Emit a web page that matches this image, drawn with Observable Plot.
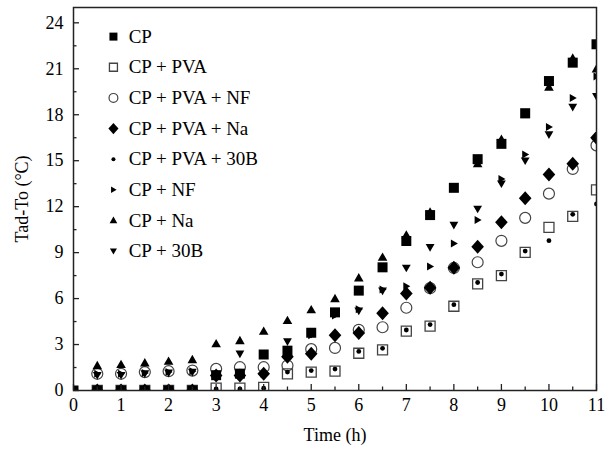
<!DOCTYPE html>
<html>
<head>
<meta charset="utf-8">
<script src="https://cdn.jsdelivr.net/npm/d3@7"></script>
<script src="https://cdn.jsdelivr.net/npm/@observablehq/plot@0.6"></script>
<style>
  html, body { margin: 0; padding: 0; background: #fff; }
  #chart svg { display: block; }
  #chart svg, #chart svg text { font-family: "Liberation Serif", "Times New Roman", serif !important; }
</style>
</head>
<body>
<div id="chart"></div>
<script>
// ---- data ----
const time = [0, 0.5, 1, 1.5, 2, 2.5, 3, 3.5, 4, 4.5, 5, 5.5, 6, 6.5, 7, 7.5, 8, 8.5, 9, 9.5, 10, 10.5, 11];

const cp      = [0, 0, 0, 0, 0, 0, 1.0, 1.1, 2.35, 2.6, 3.77, 5.1, 6.52, 8.04, 9.76, 11.45, 13.23, 15.1, 16.1, 18.1, 20.2, 21.4, 22.6];
const cpPva   = [null, 0, 0, 0, 0, 0, 0.15, 0.15, 0.2, 1.09, 1.2, 1.26, 2.43, 2.65, 3.87, 4.2, 5.5, 6.96, 7.5, 9.02, 10.65, 11.37, 13.09];
const cpPvaNf = [null, 1.09, 1.09, 1.2, 1.26, 1.3, 1.41, 1.52, 1.52, 1.63, 2.7, 2.78, 3.96, 4.13, 5.4, 6.68, 8.0, 8.37, 9.77, 11.27, 12.85, 14.46, 16.0];
const cpPvaNa = [null, 0, 0, 0, 0, 0, 0.98, 0.98, 1.1, 2.2, 2.4, 3.6, 3.75, 5.04, 6.33, 6.7, 8.02, 9.39, 10.98, 12.55, 14.1, 14.8, 16.5];
const cpPva30b= [null, 0, 0, 0, 0, 0, 0.1, 0.1, 0.15, 1.2, 1.3, 1.4, 2.55, 2.75, 3.95, 4.3, 5.6, 7.05, 7.6, 9.1, 9.78, 11.5, 12.18];
const cpNf    = [null, 1.1, 1.1, 1.15, 1.2, 1.25, 1.05, 1.0, 1.1, 2.4, 3.6, 4.9, 5.3, 6.6, 6.8, 8.1, 9.6, 11.13, 13.8, 15.4, 17.2, 19.1, 20.5];
const cpNa    = [null, 1.63, 1.7, 1.8, 1.91, 2.02, 3.05, 3.26, 3.87, 4.57, 5.27, 6.0, 7.35, 8.7, 10.15, 11.65, 13.2, 14.8, 16.4, 18.0, 19.8, 21.7, 21.0];
const cp30b   = [null, 1.0, 1.0, 1.1, 1.15, 1.2, 1.0, 2.39, 2.4, 3.2, 3.7, 5.0, 5.2, 6.5, 8.0, 9.35, 10.8, 11.85, 13.5, 15.0, 16.7, 18.5, 19.2];

const seriesNames = ["CP", "CP + PVA", "CP + PVA + NF", "CP + PVA + Na", "CP + PVA + 30B", "CP + NF", "CP + Na", "CP + 30B"];
const seriesValues = [cp, cpPva, cpPvaNf, cpPvaNa, cpPva30b, cpNf, cpNa, cp30b];

const xTicks = [0, 1, 2, 3, 4, 5, 6, 7, 8, 9, 10, 11];
const xMinor = [0.5, 1.5, 2.5, 3.5, 4.5, 5.5, 6.5, 7.5, 8.5, 9.5, 10.5];
const yTicks = [0, 3, 6, 9, 12, 15, 18, 21, 24];
const yMinor = [1.5, 4.5, 7.5, 10.5, 13.5, 16.5, 19.5, 22.5];

// ---- custom symbols (r = half size) ----
const sym = (fn) => ({ draw(ctx, size) { fn(ctx, Math.sqrt(size / Math.PI)); } });
const square = sym((c, r) => { c.moveTo(-r, -r); c.lineTo(r, -r); c.lineTo(r, r); c.lineTo(-r, r); c.closePath(); });
const circle = sym((c, r) => { c.moveTo(r, 0); c.arc(0, 0, r, 0, 2 * Math.PI); });
const diamond = sym((c, r) => { c.moveTo(0, -r); c.lineTo(r * 0.9, 0); c.lineTo(0, r); c.lineTo(-r * 0.9, 0); c.closePath(); });
const triUp = sym((c, r) => { c.moveTo(0, -r); c.lineTo(r, r * 0.75); c.lineTo(-r, r * 0.75); c.closePath(); });
const triDown = sym((c, r) => { c.moveTo(0, r); c.lineTo(r, -r * 0.75); c.lineTo(-r, -r * 0.75); c.closePath(); });
const triRight = sym((c, r) => { c.moveTo(r, 0); c.lineTo(-r * 0.75, r); c.lineTo(-r * 0.75, -r); c.closePath(); });

const styles = [
  {symbol: square,   r: 5,   fill: "#000", stroke: "none"},
  {symbol: square,   r: 5,   fill: "none", stroke: "#444", strokeWidth: 1.3},
  {symbol: circle,   r: 5.5, fill: "none", stroke: "#444", strokeWidth: 1.2},
  {symbol: diamond,  r: 7,   fill: "#000", stroke: "none"},
  {symbol: circle,   r: 2.4, fill: "#000", stroke: "none"},
  {symbol: triRight, r: 4,   fill: "#000", stroke: "none"},
  {symbol: triUp,    r: 4.8, fill: "#000", stroke: "none"},
  {symbol: triDown,  r: 4.4, fill: "#000", stroke: "none"}
];
// draw order: open markers first, filled on top
const drawOrder = [1, 2, 0, 3, 4, 5, 6, 7];

const pointMarks = drawOrder.map(i => {
  const rows = time.map((t, k) => ({t, v: seriesValues[i][k]})).filter(d => d.v != null);
  return Plot.dot(rows, {x: "t", y: "v", ...styles[i], clip: true});
});

const legendRows = seriesNames.map((name, i) => ({name, i, lx: 0.84, tx: 1.16, ly: 23.1 - 2 * i}));
const legendMarks = legendRows.map(d =>
  Plot.dot([d], {x: "lx", y: "ly", ...styles[d.i], r: d.i === 4 ? 2 : styles[d.i].r * 0.8})
);

const chart = Plot.plot({
  width: 616,
  height: 449,
  marginLeft: 73,
  marginRight: 20,
  marginTop: 7,
  marginBottom: 59,
  style: {fontFamily: "Liberation Serif, Times New Roman, serif", fontSize: "17px", color: "#000", background: "#fff"},
  x: {domain: [0, 11]},
  y: {domain: [0, 25]},
  marks: [
    ...pointMarks,
    ...legendMarks,
    Plot.text(legendRows, {x: "tx", y: "ly", text: "name", textAnchor: "start", fontSize: 19, fill: "#000"}),
    Plot.axisX(xTicks, {tickSize: -6, tickPadding: 14, stroke: "#222", strokeWidth: 1.3, fontSize: 17, label: "Time (h)", labelAnchor: "center", labelOffset: 50, labelArrow: "none"}),
    Plot.axisX(xMinor, {tickSize: -3.5, stroke: "#222", strokeWidth: 1.3, text: null, label: null}),
    Plot.axisY(yTicks, {tickSize: -6, tickPadding: 16, stroke: "#222", strokeWidth: 1.3, fontSize: 17, label: "Tad-To (°C)", labelAnchor: "center", labelOffset: 58, labelArrow: "none"}),
    Plot.axisY(yMinor, {tickSize: -3.5, stroke: "#222", strokeWidth: 1.3, text: null, label: null}),
    Plot.frame({stroke: "#222", strokeWidth: 1.5})
  ]
});
document.getElementById("chart").appendChild(chart);
// axis titles slightly larger, like the reference
chart.querySelectorAll("g[aria-label$='label'] text, g[aria-label='x-axis label'] text, g[aria-label='y-axis label'] text").forEach(t => t.setAttribute("font-size", 18));
</script>
</body>
</html>
